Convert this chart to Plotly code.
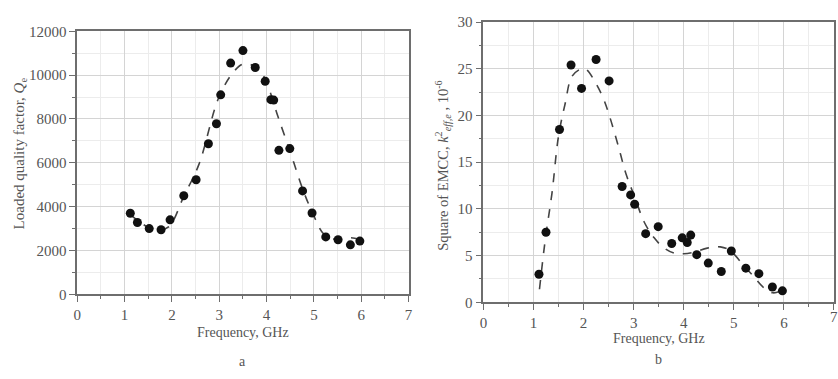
import plotly.graph_objects as go

# ---- Panel a: loaded quality factor ----
freq_a = [1.12, 1.27, 1.52, 1.77, 1.96, 2.25, 2.51, 2.77, 2.94, 3.03, 3.24, 3.50,
          3.76, 3.97, 4.09, 4.15, 4.26, 4.49, 4.76, 4.96, 5.25, 5.51, 5.77, 5.97]
q_a = [3700, 3280, 3000, 2950, 3400, 4500, 5230, 6870, 7780, 9100, 10550, 11120,
       10350, 9720, 8880, 8860, 6570, 6650, 4720, 3710, 2620, 2490, 2260, 2430]
fit_x_a = [1.10, 1.30, 1.50, 1.73, 1.94, 2.25, 2.57, 2.99, 3.30, 3.51, 3.83, 4.04,
           4.24, 4.52, 4.77, 4.98, 5.22, 5.50, 5.78, 5.99]
fit_y_a = [3670, 3330, 3060, 2940, 3090, 4470, 5930, 8980, 10140, 10510, 10290, 9420,
           8110, 6360, 4760, 3670, 2720, 2500, 2580, 2500]

# ---- Panel b: square of EMCC ----
freq_b = [1.11, 1.25, 1.52, 1.75, 1.96, 2.25, 2.51, 2.77, 2.94, 3.02, 3.24, 3.49,
          3.76, 3.97, 4.07, 4.14, 4.26, 4.49, 4.75, 4.95, 5.24, 5.50, 5.77, 5.97]
k_b = [3.0, 7.5, 18.5, 25.4, 22.9, 26.0, 23.7, 12.4, 11.5, 10.5, 7.35, 8.1,
       6.3, 6.9, 6.4, 7.2, 5.1, 4.2, 3.3, 5.5, 3.66, 3.07, 1.64, 1.23]
fit_x_b = [1.12, 1.24, 1.37, 1.50, 1.63, 1.77, 1.96, 2.06, 2.23, 2.39, 2.52, 2.69,
           2.85, 3.02, 3.21, 3.41, 3.61, 3.81, 4.00, 4.20, 4.47, 4.73, 4.93, 5.16,
           5.39, 5.59, 5.78, 5.95]
fit_y_b = [1.4, 6.9, 11.7, 17.8, 21.2, 24.2, 25.0, 24.9, 23.6, 21.9, 19.9, 16.8,
           13.7, 11.3, 8.6, 6.9, 5.8, 5.26, 5.2, 5.36, 5.8, 5.94, 5.53, 4.17,
           2.8, 1.6, 1.02, 1.26]

x_ticks = [0, 1, 2, 3, 4, 5, 6, 7]

W, H = 838, 379
TXT = "#555555"
FONT = "Liberation Serif"
dot_style = dict(size=9, color="#111111")
fit_style = dict(color="#444444", width=1.6, dash="dash", shape="spline", smoothing=1.0)

fig = go.Figure()
fig.add_trace(go.Scatter(x=fit_x_a, y=fit_y_a, mode="lines", line=fit_style,
                         xaxis="x", yaxis="y", showlegend=False))
fig.add_trace(go.Scatter(x=freq_a, y=q_a, mode="markers", marker=dot_style,
                         xaxis="x", yaxis="y", showlegend=False))
fig.add_trace(go.Scatter(x=fit_x_b, y=fit_y_b, mode="lines", line=fit_style,
                         xaxis="x2", yaxis="y2", showlegend=False))
fig.add_trace(go.Scatter(x=freq_b, y=k_b, mode="markers", marker=dot_style,
                         xaxis="x2", yaxis="y2", showlegend=False))

def minor(step):
    return dict(showgrid=True, gridcolor="#ececec", gridwidth=1, dtick=step,
                ticks="outside", ticklen=3, tickwidth=1.2, tickcolor="#6e6e6e")

def ax(**kw):
    d = dict(showline=True, linecolor="#6e6e6e", linewidth=1.6, mirror=True,
             showgrid=True, gridcolor="#d4d4d4", gridwidth=1.2,
             ticks="outside", ticklen=6, tickwidth=1.4, tickcolor="#6e6e6e",
             tickfont=dict(family=FONT, size=15, color=TXT),
             tickformat="d", zeroline=False, fixedrange=True)
    d.update(kw)
    return d

fig.update_layout(
    width=W, height=H,
    margin=dict(l=0, r=0, t=0, b=0),
    paper_bgcolor="white", plot_bgcolor="white",
    xaxis=ax(domain=[74 / W, 408.5 / W], range=[0, 7], tickvals=x_ticks,
             minor=minor(0.5), anchor="y"),
    yaxis=ax(domain=[1 - 299 / H, 1 - 24.3 / H], range=[0, 12000], dtick=2000,
             minor=minor(1000), anchor="x"),
    xaxis2=ax(domain=[484 / W, 1.0], range=[0, 7], tickvals=x_ticks,
              minor=minor(0.5), anchor="y2"),
    yaxis2=ax(domain=[1 - 307.3 / H, 1 - 14.7 / H], range=[0, 30], dtick=5,
              minor=minor(2.5), anchor="x2"),
)

def note(text, x, y, size=14, angle=0):
    fig.add_annotation(text=text, x=x / W, y=1 - y / H, xref="paper", yref="paper",
                       showarrow=False, textangle=angle, xanchor="center", yanchor="middle",
                       font=dict(family=FONT, size=size, color=TXT))

note("Frequency, GHz", 241, 339)
note("a", 241, 369)
note("Frequency, GHz", 661, 345)
note("b", 661, 367)
note("Loaded quality factor, <i>Q</i><sub>e</sub>", 16, 152, size=15, angle=-90)
note("Square of EMCC, <i>k</i><sup>2</sup><sub><i>eff,e</i></sub> , 10<sup>-6</sup>",
     443, 165, size=14.5, angle=-90)
# last x tick label of panel b, clipped by the page edge as in the reference
fig.add_annotation(text=str(x_ticks[-1]), x=x_ticks[-1], xref="x2",
                   y=1 - 323 / H, yref="paper", showarrow=False,
                   xanchor="center", yanchor="middle",
                   font=dict(family=FONT, size=15, color=TXT))

fig.write_html("out.html")
